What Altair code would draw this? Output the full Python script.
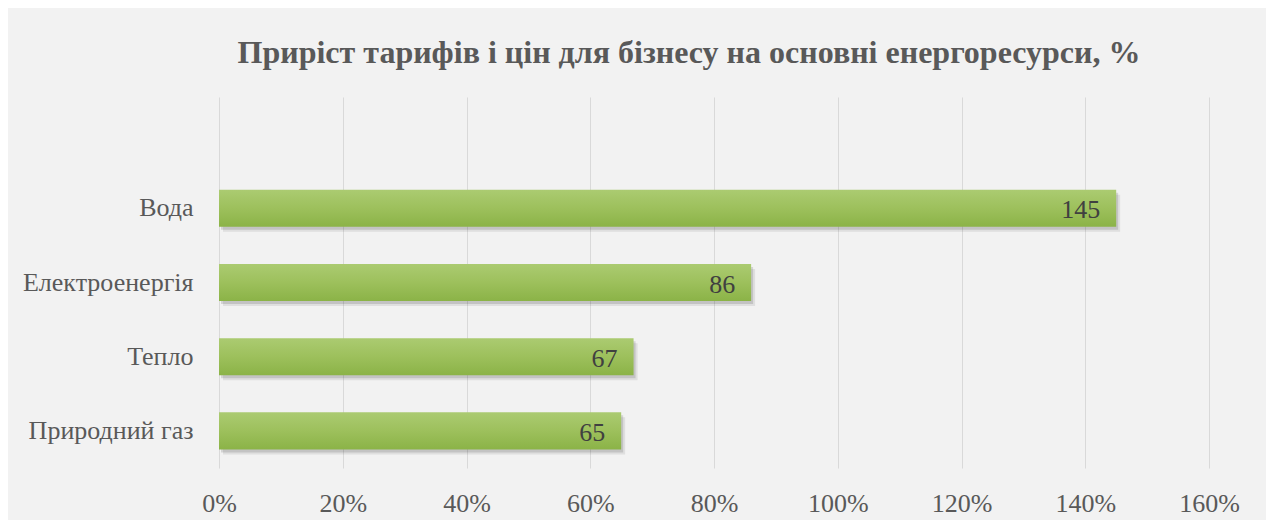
import altair as alt
import pandas as pd

categories = ["Вода", "Електроенергія", "Тепло", "Природний газ"]
values = [145, 86, 67, 65]
x_ticks = [0, 20, 40, 60, 80, 100, 120, 140, 160]
title_text = "Приріст  тарифів і цін для бізнесу на основні енергоресурси, %"

df = pd.DataFrame({"cat": categories, "val": values})
y_domain = [" "] + categories

FONT = "Liberation Serif"

x_enc = alt.X("val:Q", scale=alt.Scale(domain=[0, 160], nice=False),
              axis=alt.Axis(values=x_ticks, labelExpr="datum.value + '%'", title=None,
                            grid=True, gridColor="#d9d9d9", domain=False, ticks=False,
                            labelFlush=False, labelPadding=22, labelFontSize=26,
                            labelColor="#595959", labelFont=FONT))
y_enc = alt.Y("cat:N", scale=alt.Scale(domain=y_domain, paddingInner=0.5, paddingOuter=0.25),
              axis=alt.Axis(title=None, domain=False, ticks=False, grid=False,
                            labelPadding=26, labelFontSize=26, labelColor="#595959",
                            labelFont=FONT))

base = alt.Chart(df).encode(x=x_enc, y=y_enc)

shadow1 = base.mark_bar(color="#000000", opacity=0.12, xOffset=2, yOffset=3)
shadow2 = base.mark_bar(color="#000000", opacity=0.08, xOffset=4, yOffset=5)

gradient = alt.Gradient(
    gradient="linear", x1=0, y1=0, x2=0, y2=1,
    stops=[alt.GradientStop(offset=0, color="#abcb71"),
           alt.GradientStop(offset=0.5, color="#9dc05c"),
           alt.GradientStop(offset=1, color="#8bb347")])
bars = base.mark_bar(color=gradient)

labels = base.mark_text(align="right", baseline="middle", dx=-16, dy=2,
                        fontSize=26, color="#404040", font=FONT).encode(text="val:Q")

chart = alt.layer(shadow2, shadow1, bars, labels).properties(
    width=990, height=371,
    padding={"left": 211, "top": 89, "right": 57, "bottom": 52},
    autosize=alt.AutoSizeParams(type="none"),
    background="#f2f2f2",
    title=alt.TitleParams(title_text, font=FONT, fontSize=32, fontWeight="bold",
                          color="#595959", anchor="middle", dx=-25, offset=2,
                          baseline="alphabetic"),
).configure_view(stroke=None)

chart.save("out.html", embed_options={"renderer": "svg", "actions": False})
